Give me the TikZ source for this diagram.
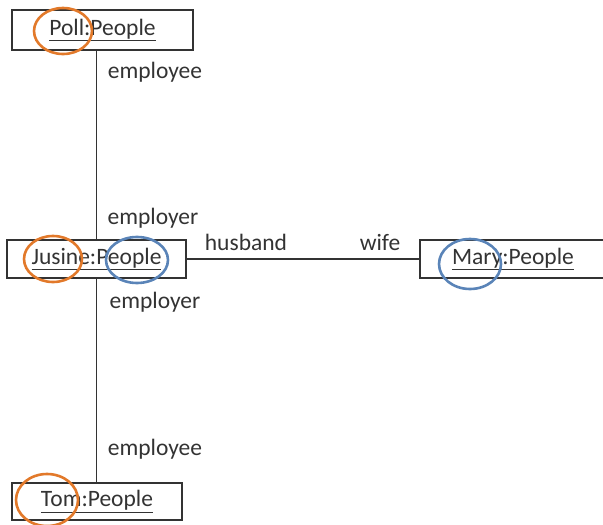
\documentclass[tikz,border=0pt]{standalone}
\usepackage{fontspec}
\setmainfont{Carlito}
\definecolor{ink}{HTML}{333333}
\definecolor{ringorange}{HTML}{E2792A}
\definecolor{ringblue}{HTML}{5A84B8}
\tikzset{
  objbox/.style={draw=ink, line width=1.5pt, inner sep=0pt, text=ink, font=\fontsize{23.5}{26}\selectfont},
  rolelabel/.style={inner sep=0pt, text=ink, font=\fontsize{23.5}{26}\selectfont},
  link/.style={draw=ink, line width=1.4pt},
  ringO/.style={draw=ringorange, line width=2.6pt},
  ringB/.style={draw=ringblue, line width=2.6pt}
}
\begin{document}
\begin{tikzpicture}[x=1pt,y=-1pt]
\useasboundingbox (0,0) rectangle (603,525);
\node[objbox, minimum width=181pt, minimum height=40pt] (poll) at (102.5,30) {\underline{Poll:People}};
\node[objbox, minimum width=179pt, minimum height=38pt] (jusine) at (96.5,259) {\underline{Jusine:People}};
\node[objbox, minimum width=186pt, minimum height=38pt] (mary) at (513,259) {\underline{Mary:People}};
\node[objbox, minimum width=170pt, minimum height=37pt] (tom) at (97,501.5) {\underline{Tom:People}};
\draw[link] (jusine.north) -- (jusine.north |- poll.south);
\draw[link] (jusine.south) -- (jusine.south |- tom.north);
\draw[link] (jusine.east) -- (mary.west);
\node[rolelabel] (l1) at (155,72) {employee};
\node[rolelabel] (l2) at (153,218) {employer};
\node[rolelabel] (l3) at (246,242) {husband};
\node[rolelabel] (l4) at (380,242) {wife};
\node[rolelabel] (l5) at (155,302) {employer};
\node[rolelabel] (l6) at (155,449) {employee};
\draw[ringO] (63,31) ellipse [x radius=29, y radius=23];
\draw[ringO] (53,259) ellipse [x radius=29, y radius=23];
\draw[ringB] (137,260) ellipse [x radius=31, y radius=23];
\draw[ringB] (470,264) ellipse [x radius=31, y radius=25];
\draw[ringO] (47,500) ellipse [x radius=31, y radius=26];
\end{tikzpicture}
\end{document}
